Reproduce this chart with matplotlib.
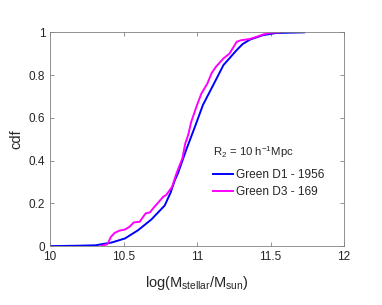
import numpy as np
import matplotlib.pyplot as plt

plt.rcParams['font.family'] = ['Liberation Sans', 'DejaVu Sans']
plt.rcParams['mathtext.default'] = 'regular'

# Green D1 - 1956
d1_x = [10.0, 10.2, 10.31, 10.42, 10.51, 10.60, 10.69, 10.78, 10.82, 10.85, 10.87,
        10.93, 10.99, 11.04, 11.11, 11.18, 11.27, 11.31, 11.36, 11.45, 11.54, 11.73]
d1_cdf = [0.0, 0.002, 0.004, 0.017, 0.036, 0.075, 0.125, 0.19, 0.25, 0.31, 0.34,
          0.457, 0.566, 0.66, 0.753, 0.847, 0.917, 0.945, 0.966, 0.987, 0.997, 1.0]

# Green D3 - 169
d3_x = [10.35, 10.39, 10.415, 10.44, 10.47, 10.51, 10.54, 10.57, 10.61, 10.65, 10.68,
        10.71, 10.74, 10.77, 10.79, 10.83, 10.86, 10.90, 10.92, 10.94, 10.96, 11.0,
        11.03, 11.07, 11.10, 11.13, 11.18, 11.22, 11.25, 11.27, 11.30, 11.36, 11.41,
        11.45, 11.50, 11.56]
d3_cdf = [0.001, 0.009, 0.044, 0.062, 0.072, 0.078, 0.09, 0.111, 0.114, 0.153, 0.158,
          0.184, 0.207, 0.231, 0.239, 0.277, 0.34, 0.41, 0.48, 0.52, 0.58, 0.66,
          0.714, 0.76, 0.81, 0.84, 0.878, 0.90, 0.933, 0.956, 0.963, 0.969, 0.98,
          0.99, 0.998, 1.0]

fig = plt.figure(figsize=(3.82, 3.05), dpi=100)
ax = fig.add_axes([0.131, 0.193, 0.7695, 0.701])

ax.plot(d1_x, d1_cdf, color='#0000ff', lw=1.4, label='Green D1 - 1956')
ax.plot(d3_x, d3_cdf, color='#ff00ff', lw=1.4, label='Green D3 - 169')

ax.set_xlim(10, 12)
ax.set_ylim(0, 1)
ax.set_xticks([10, 10.5, 11, 11.5, 12])
ax.set_xticklabels(['10', '10.5', '11', '11.5', '12'])
ax.set_yticks([0, 0.2, 0.4, 0.6, 0.8, 1])
ax.set_yticklabels(['0', '0.2', '0.4', '0.6', '0.8', '1'])
ax.tick_params(direction='in', top=True, right=True, length=3, width=0.6,
               colors='#262626', labelsize=8.5, color='#808080')
for s in ax.spines.values():
    s.set_color('#808080')
    s.set_linewidth(0.6)

ax.set_xlabel('log(M$_{stellar}$/M$_{sun}$)', fontsize=10.5, color='#262626', labelpad=8)
ax.set_ylabel('cdf', fontsize=10.5, color='#262626')

ax.text(0.554, 0.44, 'R$_2$ = 10 h$^{-1}$Mpc', transform=ax.transAxes,
        fontsize=8.2, color='#262626', ha='left', va='center')
leg = ax.legend(loc='upper left', bbox_to_anchor=(0.537, 0.384), frameon=False,
                fontsize=8.6, handlelength=1.67, handletextpad=0.25,
                labelspacing=0.45, borderpad=0.4, borderaxespad=0)
for t in leg.get_texts():
    t.set_color('#262626')

fig.savefig('out.png', dpi=100)
